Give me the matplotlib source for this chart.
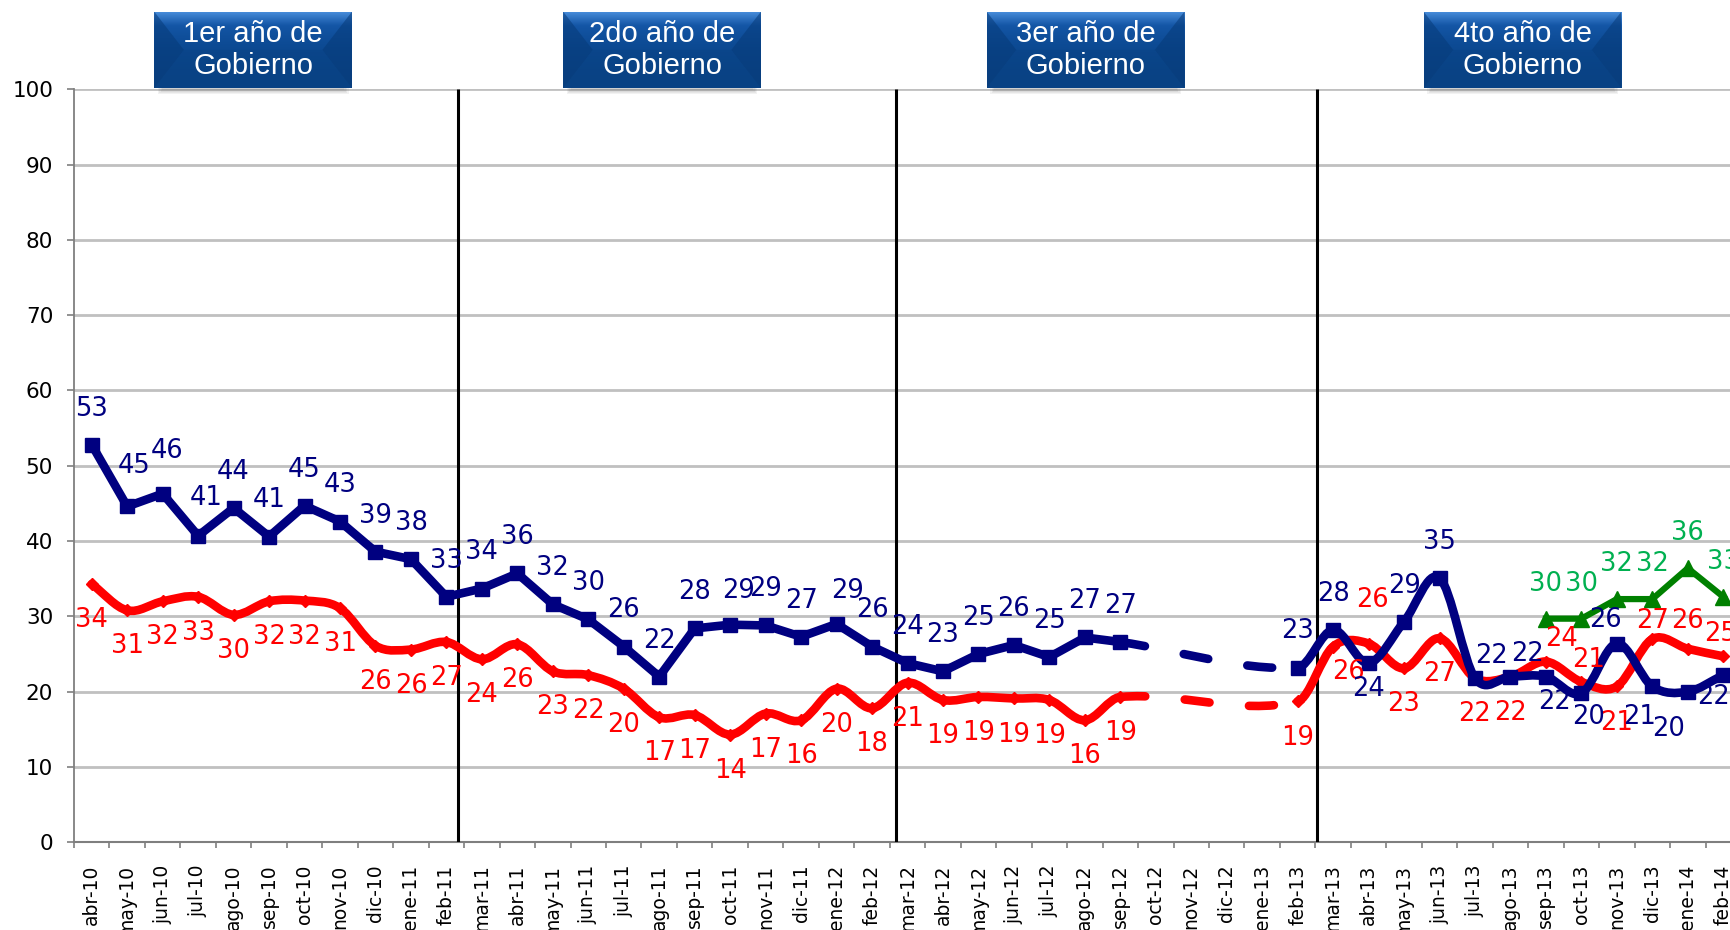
import numpy as np
import matplotlib
matplotlib.use("Agg")
import matplotlib.pyplot as plt
from matplotlib.path import Path
from matplotlib.patches import PathPatch, Polygon, Rectangle
from matplotlib.colors import LinearSegmentedColormap

plt.rcParams['font.family'] = ['DejaVu Sans']

months = ["abr-10", "may-10", "jun-10", "jul-10", "ago-10", "sep-10", "oct-10", "nov-10",
          "dic-10", "ene-11", "feb-11", "mar-11", "abr-11", "may-11", "jun-11", "jul-11",
          "ago-11", "sep-11", "oct-11", "nov-11", "dic-11", "ene-12", "feb-12", "mar-12",
          "abr-12", "may-12", "jun-12", "jul-12", "ago-12", "sep-12", "oct-12", "nov-12",
          "dic-12", "ene-13", "feb-13", "mar-13", "abr-13", "may-13", "jun-13", "jul-13",
          "ago-13", "sep-13", "oct-13", "nov-13", "dic-13", "ene-14", "feb-14"]

nan = np.nan
# navy series (no surveys oct-12 .. ene-13)
blue = [52.8, 44.6, 46.3, 40.7, 44.4, 40.6, 44.7, 42.6, 38.6, 37.6, 32.6, 33.7, 35.7, 31.6,
        29.6, 26.0, 22.0, 28.4, 28.9, 28.8, 27.3, 29.0, 26.0, 23.8, 22.7, 25.0, 26.2, 24.6,
        27.2, 26.6, nan, nan, nan, nan, 23.2, 28.2, 23.8, 29.3, 35.1, 21.8, 22.0, 22.0,
        19.8, 26.4, 20.7, 20.0, 22.2]
# red series
red = [34.3, 30.8, 32.0, 32.6, 30.2, 32.0, 32.1, 31.1, 26.1, 25.6, 26.6, 24.3, 26.3, 22.7,
       22.2, 20.4, 16.6, 16.9, 14.3, 17.1, 16.2, 20.4, 17.8, 21.2, 18.9, 19.3, 19.1, 18.9,
       16.2, 19.3, nan, nan, nan, nan, 18.7, 26.0, 26.4, 23.1, 27.1, 21.8, 22.0, 24.0,
       21.3, 20.7, 27.0, 25.7, 24.7]
# green series (from sep-13)
green = [nan] * 41 + [29.7, 29.7, 32.3, 32.3, 36.4, 32.6]

year_titles = ["1er año de\nGobierno", "2do año de\nGobierno",
               "3er año de\nGobierno", "4to año de\nGobierno"]

NAVY = "#000080"
RED = "#ff0000"
GREEN = "#008000"
GREEN_TXT = "#00b050"

# layout (category units)
year_lines = [10.32, 22.67, 34.54]
box_centers = [4.55, 16.08, 28.02, 40.34]
box_width = 5.58

# label offsets in points (dx, dy) that differ from the default
blue_off = {1: (5, 29), 2: (3, 31), 3: (6, 27), 18: (6, 24), 21: (8, 24),
            36: (0, -19), 39: (12, 16), 40: (12, 16), 41: (6, -18), 42: (5, -17),
            43: (-8, 17), 44: (-9, -22), 45: (-14, -27), 46: (-7, -16)}
red_off = {35: (11, -18), 36: (3, 31), 41: (11, 16), 42: (5, 16), 44: (0, 13),
           45: (0, 20), 46: (-2, 16)}


def hermite(xs, ys, a, b):
    # smooth curve through points a..b, slopes taken from neighbours
    n = len(xs)

    def slope(i):
        i0, i1 = max(i - 1, 0), min(i + 1, n - 1)
        return (ys[i1] - ys[i0]) / (xs[i1] - xs[i0])

    verts = [(xs[a], ys[a])]
    codes = [Path.MOVETO]
    for i in range(a, b):
        h = xs[i + 1] - xs[i]
        s1, s2 = slope(i), slope(i + 1)
        verts += [(xs[i] + h / 3, ys[i] + s1 * h / 3),
                  (xs[i + 1] - h / 3, ys[i + 1] - s2 * h / 3),
                  (xs[i + 1], ys[i + 1])]
        codes += [Path.CURVE4] * 3
    return Path(verts, codes)


def straight(xs, ys, a, b):
    verts = list(zip(xs[a:b + 1], ys[a:b + 1]))
    return Path(verts, [Path.MOVETO] + [Path.LINETO] * (len(verts) - 1))


def draw_series(ax, vals, color, lw, z, first_smooth=True):
    vals = np.array(vals, dtype=float)
    idx = np.where(~np.isnan(vals))[0]
    xs, ys = idx.astype(float), vals[idx]
    gaps = np.where(np.diff(idx) > 1)[0]
    starts = [0] + [g + 1 for g in gaps]
    ends = [g for g in gaps] + [len(idx) - 1]
    for k, (a, b) in enumerate(zip(starts, ends)):
        if k == 0 and not first_smooth:
            p = straight(xs, ys, a, b)
        else:
            p = hermite(xs, ys, a, b)
        ax.add_patch(PathPatch(p, fill=False, edgecolor=color, lw=lw, capstyle='round',
                               joinstyle='round', zorder=z))
    for g in gaps:
        p = hermite(xs, ys, g, g + 1)
        ax.add_patch(PathPatch(p, fill=False, edgecolor=color, lw=lw, capstyle='round',
                               joinstyle='round', linestyle=(0, (2.9, 4.6)), zorder=z))


fig = plt.figure(figsize=(17.3, 9.3), dpi=100)
ax = fig.add_axes([74 / 1730, 1 - 842.3 / 930, 1667 / 1730, 753 / 930])
x = np.arange(len(months))
ax.set_xlim(-0.5, len(months) - 0.5)
ax.set_ylim(0, 100)

# grid and axes
ax.set_yticks(range(0, 101, 10))
ax.yaxis.grid(True, color="#c0c0c0", lw=2)
ax.set_axisbelow(True)
for s in ["top", "right"]:
    ax.spines[s].set_visible(False)
ax.spines["left"].set_color("#7f7f7f")
ax.spines["left"].set_linewidth(1.3)
ax.spines["bottom"].set_color("#7f7f7f")
ax.spines["bottom"].set_linewidth(1.5)
ax.tick_params(axis="y", length=5, width=1.2, color="#7f7f7f", pad=10, labelsize=15.5)
ax.set_xticks(np.arange(-0.5, len(months), 1))
ax.set_xticklabels([])
ax.set_xticks(x, minor=True)
ax.set_xticklabels(months, minor=True, rotation=90, fontsize=13.5)
ax.tick_params(axis="x", which="major", length=4.5, width=1.2, color="#7f7f7f")
ax.tick_params(axis="x", which="minor", length=0, pad=16)

ax.vlines(year_lines, 0, 100, color="black", lw=2.2, zorder=3)

# series
draw_series(ax, red, RED, 6.2, 4)
ax.plot(x, red, ls="none", marker="D", ms=6, color=RED, zorder=4)
draw_series(ax, blue, NAVY, 6.2, 5, first_smooth=False)
ax.plot(x, blue, ls="none", marker="s", ms=10, color=NAVY, zorder=5)
ax.plot(x, green, color=GREEN, lw=4.5, marker="^", ms=11, zorder=6)

# data labels
for vals, color, dflt, offs in [(red, RED, -26, red_off), (blue, NAVY, 26, blue_off),
                                (green, GREEN_TXT, 25, {})]:
    for i, v in enumerate(vals):
        if np.isnan(v):
            continue
        dx, dy = offs.get(i, (0, dflt))
        ax.annotate(f"{v:.0f}", (i, v), xytext=(dx, dy), textcoords="offset points",
                    ha="center", va="center", fontsize=18.5, color=color, zorder=7)

# year boxes
grad = LinearSegmentedColormap.from_list("box", ["#0b4587", "#0d4b95", "#1456a6", "#4a8fdc"])
for cx, title in zip(box_centers, year_titles):
    x0 = cx - box_width / 2
    for k in range(4):
        ax.add_patch(Rectangle((x0 + 0.1 + 0.04 * k, 99.4 + 0.15 * k), box_width - 0.2 - 0.08 * k,
                               1.0, color="#505050", alpha=0.07, lw=0, clip_on=False, zorder=7))
    bax = ax.inset_axes([x0, 100.13, box_width, 10.2], transform=ax.transData, zorder=8)
    bax.set_axis_off()
    bax.set_xlim(0, 1)
    bax.set_ylim(0, 1)
    bax.imshow(np.linspace(0, 1, 100)[:, None] ** 2, extent=(0, 1, 0, 1), origin="lower",
               aspect="auto", cmap=grad)
    d = 0.15
    bax.add_patch(Polygon([(0, 0), (0, 1), (d, 0.5)], color="#063a78", alpha=0.55, lw=0))
    bax.add_patch(Polygon([(1, 0), (1, 1), (1 - d, 0.5)], color="#063a78", alpha=0.55, lw=0))
    bax.add_patch(Polygon([(0, 0), (1, 0), (1 - d, 0.5), (d, 0.5)], color="#083f80",
                          alpha=0.35, lw=0))
    bax.text(0.5, 0.5, title, ha="center", va="center", color="white", fontsize=21,
             family=["Liberation Sans", "DejaVu Sans"], linespacing=1.2)

fig.savefig("out.png", dpi=100)
